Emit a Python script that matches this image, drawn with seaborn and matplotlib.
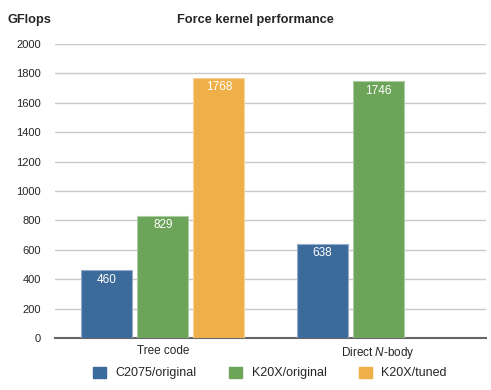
import matplotlib
matplotlib.use("Agg")
import matplotlib.pyplot as plt
import seaborn as sns
import pandas as pd
from matplotlib.patches import Patch
from matplotlib.colors import to_rgb

groups = ["Tree code", "Direct $\\mathit{N}$-body"]
configs = ["C2075/original", "K20X/original", "K20X/tuned"]
tree_values = [460, 829, 1768]
direct_values = [638, 1746]
colors = ["#3c6a9b", "#6ca459", "#efb04a"]
yticks = [0, 200, 400, 600, 800, 1000, 1200, 1400, 1600, 1800, 2000]

rows = []
for c, v in zip(configs, tree_values):
    rows.append((groups[0], c, v))
for c, v in zip(configs, direct_values):
    rows.append((groups[1], c, v))
df = pd.DataFrame(rows, columns=["group", "config", "gflops"])

sns.set_theme(style="white")
plt.rcParams["font.family"] = ["Liberation Sans", "DejaVu Sans"]
plt.rcParams["mathtext.fontset"] = "custom"
plt.rcParams["mathtext.it"] = "Liberation Sans:italic"
plt.rcParams["mathtext.rm"] = "Liberation Sans"

fig = plt.figure(figsize=(4.91, 3.90), dpi=100)
ax = fig.add_axes([55/491, 52/390, 431/491, 294/390])

sns.barplot(data=df, x="group", y="gflops", hue="config", hue_order=configs,
            order=groups, palette=colors, saturation=1, width=0.78, gap=0.09, ax=ax,
            legend=False, linewidth=0.8, edgecolor="white", zorder=3)

for cont, col in zip(ax.containers, colors):
    r, g, b = to_rgb(col)
    light = (r + (1 - r) * 0.45, g + (1 - g) * 0.45, b + (1 - b) * 0.45)
    for p in cont:
        p.set_edgecolor(light)
    vals = [p.get_height() for p in cont]
    ax.bar_label(cont, labels=[f"{v:.0f}" for v in vals], padding=-11,
                 color="white", fontsize=8.5)

ax.set_xlim(-0.5, 1.5)
ax.set_ylim(0, 2000)
ax.set_yticks(yticks)
ax.set_yticklabels([str(t) for t in yticks], fontsize=8)
ax.tick_params(axis="x", labelsize=8.5, length=0, pad=5)
ax.tick_params(axis="y", length=0, pad=10)
ax.set_xlabel("")
ax.set_ylabel("")
ax.yaxis.grid(True, color="#c9c9c9", linewidth=1.0, zorder=0)
ax.set_axisbelow(True)
for s in ["top", "right", "left"]:
    ax.spines[s].set_visible(False)
ax.spines["bottom"].set_color("#666666")
ax.spines["bottom"].set_linewidth(1.5)

fig.text(255/491, 1 - 20/390, "Force kernel performance", ha="center", va="center",
         fontsize=9.2, fontweight="bold")
fig.text(8/491, 1 - 20/390, "GFlops", ha="left", va="center",
         fontsize=9.2, fontweight="bold")

handles = [Patch(facecolor=c, edgecolor=c) for c in colors]
fig.legend(handles, configs, loc="center", bbox_to_anchor=(270/491, 1 - 373/390),
           ncol=3, frameon=False, fontsize=9, handlelength=1.0, handleheight=1.0,
           columnspacing=2.6, handletextpad=0.8)

fig.savefig("out.png", dpi=100)
